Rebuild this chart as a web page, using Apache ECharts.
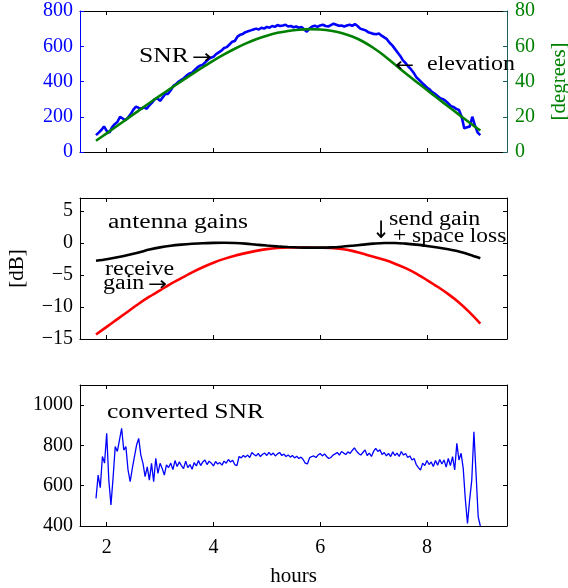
<!DOCTYPE html>
<html><head><meta charset="utf-8">
<script src="https://cdn.jsdelivr.net/npm/echarts@6/dist/echarts.min.js"></script>
<style>html,body{margin:0;padding:0;background:#fff}#c{width:568px;height:588px}</style>
</head><body><div id="c"></div>
<script>
// ---------- data ----------
const xTicks = [2, 4, 6, 8];
// top panel: SNR (regularly sampled from 1.80 h to 9.00 h)
const snrStart = 1.80, snrEnd = 9.00;
const snrValues = [96,110,125,145,120,110,140,158,170,200,190,180,195,215,240,258,250,245,255,245,265,280,300,305,290,310,330,330,350,375,385,400,410,420,435,445,450,465,480,490,495,510,525,535,540,555,565,575,590,595,610,625,630,655,665,670,680,685,690,695,700,695,705,700,710,705,715,710,720,715,718,722,712,715,708,712,705,710,695,683,700,712,716,710,718,722,715,712,720,728,722,716,718,712,718,722,716,726,715,700,695,690,680,675,670,668,672,660,650,640,620,605,585,565,545,520,505,485,470,450,425,410,395,380,365,355,340,330,318,305,300,290,275,260,255,245,238,200,134,140,144,200,150,110,96];
// elevation and gains
const curveHours = [1.8,2.0,2.2,2.4,2.6,2.8,3.0,3.2,3.4,3.6,3.8,4.0,4.2,4.4,4.6,4.8,5.0,5.2,5.4,5.6,5.8,6.0,6.2,6.4,6.6,6.8,7.0,7.2,7.4,7.6,7.8,8.0,8.2,8.4,8.6,8.8,9.0];
const elevValues = [6.4,10.6,14.9,19.2,23.5,27.8,32.0,36.1,40.2,44.2,48.1,51.9,55.4,58.6,61.5,64.0,66.0,67.6,68.7,69.4,69.7,69.5,68.8,67.5,65.5,62.7,59.0,54.6,49.6,44.7,39.9,35.2,30.5,25.8,21.2,16.6,12.2];
const sendGain = [-2.8,-2.55,-2.25,-1.9,-1.5,-1.05,-0.7,-0.45,-0.28,-0.15,-0.05,0,0.02,-0.02,-0.12,-0.28,-0.42,-0.55,-0.65,-0.72,-0.75,-0.74,-0.7,-0.6,-0.45,-0.28,-0.12,-0.02,-0.02,-0.12,-0.28,-0.48,-0.72,-1.0,-1.35,-1.85,-2.4];
const receiveGain = [-14.3,-13.1,-11.9,-10.7,-9.5,-8.4,-7.4,-6.4,-5.5,-4.6,-3.8,-3.1,-2.5,-2.0,-1.6,-1.25,-0.98,-0.8,-0.72,-0.72,-0.75,-0.76,-0.8,-0.95,-1.25,-1.7,-2.15,-2.65,-3.25,-3.95,-4.8,-5.8,-6.85,-8.0,-9.3,-10.85,-12.6];
// bottom panel: converted SNR (regularly sampled from 1.80 h to 9.00 h)
const convStart = 1.80, convEnd = 9.00;
const convValues = [537,653,590,745,712,860,628,504,640,794,770,827,885,777,794,678,620,686,744,802,835,752,711,645,694,628,711,620,736,661,711,686,653,703,690,712,680,725,695,718,700,685,722,690,705,682,715,698,725,700,718,728,705,722,712,698,720,708,715,702,722,712,730,718,726,705,700,745,738,750,742,752,740,765,755,748,760,745,756,762,750,766,752,762,748,758,765,750,757,745,753,742,750,738,746,735,742,730,712,708,738,745,748,740,752,760,748,758,745,735,740,752,758,765,752,770,762,755,768,760,775,788,772,760,752,765,778,750,762,745,770,785,770,778,755,765,748,760,745,768,750,762,745,770,752,760,740,748,728,735,705,690,678,712,700,725,705,718,695,725,702,730,708,728,692,735,700,744,678,810,728,761,686,530,413,530,628,868,661,447,400];

// ---------- helpers ----------
function sampled(start, end, vals) {
  const n = vals.length;
  return vals.map((v, i) => [start + i * (end - start) / (n - 1), v]);
}
function paired(hours, vals) { return hours.map((h, i) => [h, vals[i]]); }

const FONT = 'Liberation Serif';
const ARROWFONT = 'DejaVu Sans';
const minus = s => String(s).replace('-', '\u2212');

function mkX(gi, pos, showLabel, name) {
  return {
    type: 'value', gridIndex: gi, position: pos, min: 1.5, max: 9.5,
    axisLine: { show: true, onZero: false, lineStyle: { color: '#000', width: 1 } },
    axisTick: { show: true, inside: true, length: 4, customValues: xTicks, lineStyle: { color: '#000' } },
    axisLabel: { show: showLabel, customValues: xTicks, margin: 12, color: '#000', fontFamily: FONT, fontSize: 20 },
    splitLine: { show: false },
    name: name || '', nameLocation: 'middle', nameGap: 40,
    nameTextStyle: { fontFamily: FONT, fontSize: 21, color: '#000' }
  };
}
function mkY(gi, pos, min, max, interval, o) {
  o = o || {};
  return {
    type: 'value', gridIndex: gi, position: pos, min: min, max: max, interval: interval,
    axisLine: { show: true, onZero: false, lineStyle: { color: o.lineColor || '#000', width: 1 } },
    axisTick: { show: true, inside: true, length: 4, lineStyle: { color: o.tickColor || o.lineColor || '#000' } },
    axisLabel: {
      show: o.labels !== false, margin: o.margin || 7, color: o.labelColor || '#000',
      fontFamily: FONT, fontSize: 20, hideOverlap: false, showMaxLabel: true, showMinLabel: true,
      formatter: v => (Math.abs(v % interval) < 1e-9 ? minus(v) : '')
    },
    splitLine: { show: false },
    name: o.name || '', nameLocation: 'middle', nameRotate: 90, nameGap: o.nameGap || 40,
    nameTextStyle: { fontFamily: FONT, fontSize: 21, color: o.nameColor || '#000' }
  };
}
function txt(x, y, s, o) {
  o = o || {};
  return {
    type: 'text', x: x, y: y, scaleX: o.sx === undefined ? 1.28 : o.sx, z: 100,
    style: { text: s, fontFamily: o.font || FONT, fontSize: o.fs || 20, fill: '#000',
      align: o.align || 'left', verticalAlign: 'middle', textAlign: o.align || 'left', textVerticalAlign: 'middle' }
  };
}

const grids = [
  { left: 80, right: 61, top: 11, height: 141 },
  { left: 80, right: 61, top: 198, height: 141 },
  { left: 80, right: 61, top: 385, height: 141 }
].map(g => Object.assign(g, { containLabel: false, outerBoundsMode: 'none' }));

const option = {
  animation: false,
  backgroundColor: '#fff',
  grid: grids,
  xAxis: [
    mkX(0, 'bottom', false), mkX(0, 'top', false),
    mkX(1, 'bottom', false), mkX(1, 'top', false),
    mkX(2, 'bottom', true, 'hours'), mkX(2, 'top', false)
  ],
  yAxis: [
    mkY(0, 'left', 0, 800, 200, { lineColor: '#0000ff', labelColor: '#0000ff' }),
    mkY(0, 'right', 0, 80, 20, { lineColor: '#1b5e5e', labelColor: '#008000', margin: 8,
      name: '[degrees]', nameColor: '#008000', nameGap: 42 }),
    mkY(1, 'left', -15, 7, 5, { name: '[dB]', nameGap: 52 }),
    mkY(1, 'right', -15, 7, 5, { labels: false }),
    mkY(2, 'left', 400, 1100, 200),
    mkY(2, 'right', 400, 1100, 200, { labels: false })
  ],
  series: [
    { type: 'line', xAxisIndex: 0, yAxisIndex: 0, data: sampled(snrStart, snrEnd, snrValues),
      showSymbol: false, lineStyle: { color: '#0000ff', width: 2.6 }, z: 2 },
    { type: 'line', xAxisIndex: 0, yAxisIndex: 1, data: paired(curveHours, elevValues), smooth: 0.3,
      showSymbol: false, lineStyle: { color: '#008000', width: 2.6 }, z: 3 },
    { type: 'line', xAxisIndex: 2, yAxisIndex: 2, data: paired(curveHours, receiveGain), smooth: 0.3,
      showSymbol: false, lineStyle: { color: '#ff0000', width: 2.6 }, z: 2 },
    { type: 'line', xAxisIndex: 2, yAxisIndex: 2, data: paired(curveHours, sendGain), smooth: 0.3,
      showSymbol: false, lineStyle: { color: '#000000', width: 2.6 }, z: 3 },
    { type: 'line', xAxisIndex: 4, yAxisIndex: 4, data: sampled(convStart, convEnd, convValues),
      showSymbol: false, lineStyle: { color: '#0000ff', width: 1.3 }, z: 2 }
  ],
  graphic: [
    txt(139, 57, 'SNR'), txt(192, 58, '\u2192', { font: ARROWFONT, sx: 1.25, fs: 19 }),
    txt(395, 66, '\u2190', { font: ARROWFONT, sx: 1.2, fs: 19 }), txt(427, 65, 'elevation', { sx: 1.2 }),
    txt(108, 223, 'antenna gains'),
    txt(389, 220, 'send gain', { sx: 1.2 }),
    txt(381, 232, '\u2193', { font: ARROWFONT, sx: 0.9, fs: 24, align: 'center' }),
    txt(393, 237, '+ space loss', { sx: 1.17 }),
    txt(105, 270, 'receive', { sx: 1.2 }),
    txt(103, 284, 'gain', { sx: 1.2 }), txt(148, 285, '\u2192', { font: ARROWFONT, sx: 1.2, fs: 19 }),
    txt(107, 413, 'converted SNR')
  ]
};
const chart = echarts.init(document.getElementById('c'), null, { renderer: 'canvas' });
chart.setOption(option);
</script></body></html>
